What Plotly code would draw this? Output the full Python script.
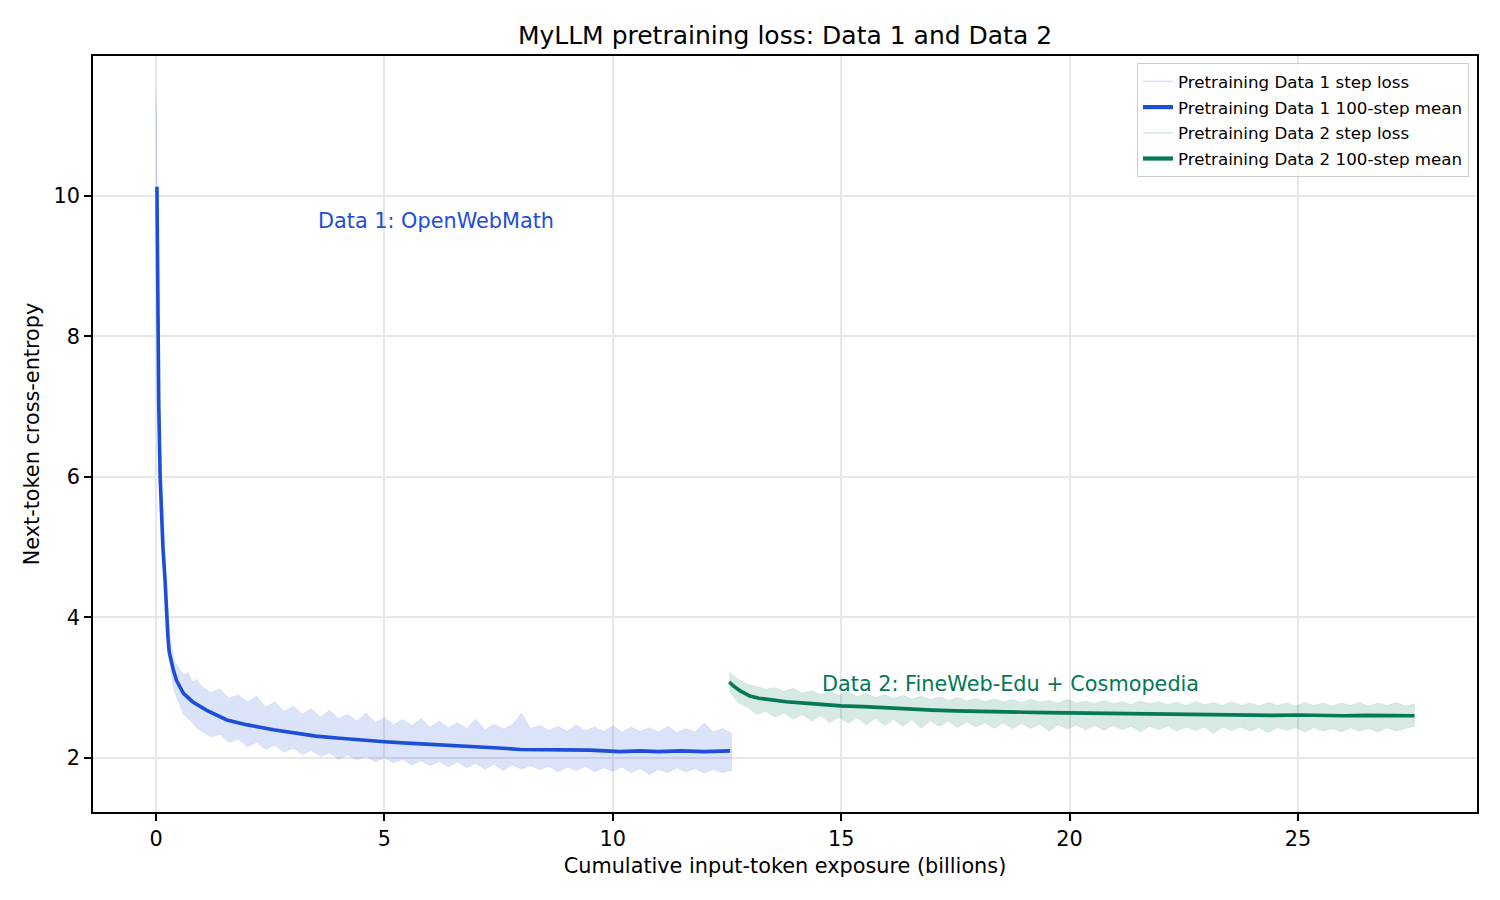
import numpy as np
import plotly.graph_objects as go

# ---------------- Data ----------------
# Data 1 step-loss envelope: early (steep) part
d1_band_x_early = [0.0, 0.01, 0.03, 0.05, 0.08, 0.10, 0.13, 0.16, 0.20, 0.25, 0.30, 0.35, 0.40, 0.50, 0.60, 0.70, 0.80, 0.90]
d1_band_hi_early = [11.5, 11.0, 9.6, 8.6, 7.3, 6.6, 5.9, 5.4, 4.9, 4.25, 3.8, 3.55, 3.38, 3.28, 3.18, 3.22, 3.08, 3.12]
d1_band_lo_early = [11.3, 10.2, 9.0, 8.0, 6.8, 6.1, 5.4, 4.9, 4.3, 3.8, 3.35, 3.12, 2.95, 2.78, 2.62, 2.56, 2.50, 2.42]
# Data 1 step-loss envelope: from 1.0 B tokens, every 0.2 B
d1_band_hi = [3.02, 2.93, 2.98, 2.85, 2.90, 2.80, 2.88, 2.72, 2.80, 2.66,
              2.74, 2.62, 2.70, 2.58, 2.68, 2.56, 2.62, 2.52, 2.64, 2.50,
              2.58, 2.47, 2.55, 2.46, 2.56, 2.44, 2.52, 2.43, 2.50, 2.42,
              2.55, 2.40, 2.48, 2.41, 2.47, 2.64, 2.42, 2.46, 2.39, 2.45,
              2.38, 2.47, 2.39, 2.44, 2.38, 2.46, 2.37, 2.44, 2.38, 2.43,
              2.37, 2.45, 2.36, 2.42, 2.37, 2.50, 2.37, 2.42, 2.35]
d1_band_lo = [2.38, 2.30, 2.33, 2.22, 2.27, 2.16, 2.22, 2.12, 2.18, 2.08,
              2.14, 2.05, 2.10, 2.02, 2.07, 1.98, 2.04, 1.97, 2.02, 1.94,
              2.00, 1.93, 1.98, 1.90, 1.96, 1.89, 1.95, 1.87, 1.94, 1.86,
              1.92, 1.84, 1.91, 1.82, 1.90, 1.84, 1.89, 1.83, 1.88, 1.80,
              1.87, 1.82, 1.88, 1.80, 1.86, 1.81, 1.87, 1.79, 1.85, 1.76,
              1.84, 1.79, 1.86, 1.80, 1.85, 1.78, 1.84, 1.79, 1.82]

# Data 1 100-step mean
d1_mean_x = [0.02, 0.03, 0.04, 0.06, 0.09, 0.12, 0.15, 0.20, 0.23, 0.26, 0.29, 0.33, 0.38, 0.45, 0.60, 0.80,
             1.10, 1.55, 2.00, 2.57, 3.00, 3.50, 4.03, 4.50, 5.00, 5.50, 6.20, 6.60, 7.00, 7.50, 7.97,
             8.50, 9.00, 9.50, 10.16, 10.60, 11.00, 11.50, 12.00, 12.57]
d1_mean_y = [10.13, 9.0, 8.0, 7.0, 6.0, 5.5, 5.0, 4.5, 4.0, 3.72, 3.50, 3.36, 3.25, 3.10, 2.92, 2.80,
             2.68, 2.54, 2.47, 2.40, 2.36, 2.31, 2.28, 2.25, 2.23, 2.21, 2.19, 2.17, 2.16, 2.14, 2.12,
             2.12, 2.11, 2.11, 2.09, 2.10, 2.09, 2.10, 2.09, 2.10]

# Data 2 step-loss envelope, every 0.2 B tokens from 12.55 B
d2_band_hi = [3.22, 3.12, 3.05, 3.02, 2.98, 3.00, 2.95, 2.99, 2.92, 2.96,
              2.90, 2.95, 2.89, 2.94, 2.87, 2.92, 2.86, 2.90, 2.85, 2.89,
              2.84, 2.88, 2.83, 2.87, 2.82, 2.86, 2.81, 2.85, 2.80, 2.84,
              2.80, 2.83, 2.79, 2.84, 2.79, 2.82, 2.78, 2.83, 2.78, 2.81,
              2.77, 2.82, 2.77, 2.80, 2.76, 2.81, 2.77, 2.80, 2.76, 2.79,
              2.75, 2.80, 2.76, 2.79, 2.75, 2.80, 2.75, 2.78, 2.74, 2.79,
              2.75, 2.78, 2.74, 2.79, 2.75, 2.78, 2.74, 2.78, 2.75, 2.79,
              2.74, 2.78, 2.75, 2.79, 2.74, 2.77]
d2_band_lo = [2.95, 2.78, 2.72, 2.62, 2.66, 2.58, 2.64, 2.55, 2.62, 2.52,
              2.60, 2.50, 2.58, 2.49, 2.57, 2.47, 2.56, 2.46, 2.55, 2.45,
              2.54, 2.42, 2.53, 2.45, 2.52, 2.43, 2.51, 2.44, 2.50, 2.42,
              2.50, 2.41, 2.49, 2.42, 2.48, 2.38, 2.47, 2.41, 2.47, 2.40,
              2.46, 2.39, 2.46, 2.40, 2.45, 2.37, 2.45, 2.40, 2.45, 2.38,
              2.44, 2.39, 2.44, 2.35, 2.44, 2.39, 2.44, 2.38, 2.43, 2.36,
              2.43, 2.39, 2.43, 2.37, 2.43, 2.38, 2.42, 2.37, 2.43, 2.38,
              2.42, 2.37, 2.43, 2.38, 2.42, 2.45]

# Data 2 100-step mean
d2_mean_x = [12.55, 12.65, 12.80, 13.00, 13.20, 13.50, 13.80, 14.20, 14.60, 15.00, 15.50, 16.00, 16.50,
             17.00, 17.50, 18.00, 18.50, 19.00, 19.50, 20.00, 20.50, 21.00, 21.50, 22.00, 22.50, 23.00,
             23.50, 24.00, 24.50, 25.00, 25.50, 26.00, 26.50, 27.00, 27.55]
d2_mean_y = [3.08, 3.02, 2.95, 2.88, 2.85, 2.82, 2.80, 2.78, 2.76, 2.74, 2.73, 2.71, 2.70,
             2.68, 2.67, 2.66, 2.655, 2.65, 2.645, 2.64, 2.635, 2.63, 2.625, 2.62, 2.62, 2.615,
             2.61, 2.61, 2.605, 2.61, 2.60, 2.60, 2.605, 2.60, 2.60]

x_ticks = [0, 5, 10, 15, 20, 25]
y_ticks = [2, 4, 6, 8, 10]

# ---------------- Build ----------------
BLUE = "#1d4ed8"
GREEN = "#047857"
BLUE_LIGHT = "rgba(29,78,216,0.16)"
GREEN_LIGHT = "rgba(4,120,87,0.16)"
FONT = "DejaVu Sans"

d1_grid_x = list(np.round(1.0 + 0.2 * np.arange(len(d1_band_hi)), 3))
d2_grid_x = list(np.round(12.55 + 0.2 * np.arange(len(d2_band_hi)), 3))

d1_x = d1_band_x_early + d1_grid_x
d1_hi = d1_band_hi_early + d1_band_hi
d1_lo = d1_band_lo_early + d1_band_lo

fig = go.Figure()

fig.add_trace(go.Scatter(
    x=d1_x + d1_x[::-1], y=d1_hi + d1_lo[::-1], fill="toself",
    fillcolor=BLUE_LIGHT, line=dict(color=BLUE_LIGHT, width=0.5),
    mode="lines", showlegend=False, hoverinfo="skip"))
fig.add_trace(go.Scatter(
    x=d1_mean_x, y=d1_mean_y, mode="lines", line=dict(color=BLUE, width=3.6),
    showlegend=False))

fig.add_trace(go.Scatter(
    x=d2_grid_x + d2_grid_x[::-1], y=d2_band_hi + d2_band_lo[::-1], fill="toself",
    fillcolor=GREEN_LIGHT, line=dict(color=GREEN_LIGHT, width=0.5),
    mode="lines", showlegend=False, hoverinfo="skip"))
fig.add_trace(go.Scatter(
    x=d2_mean_x, y=d2_mean_y, mode="lines", line=dict(color=GREEN, width=3.6),
    showlegend=False))

legend_items = [
    ("Pretraining Data 1 step loss", "rgba(29,78,216,0.18)", 1.5),
    ("Pretraining Data 1 100-step mean", BLUE, 4.2),
    ("Pretraining Data 2 step loss", "rgba(4,120,87,0.18)", 1.5),
    ("Pretraining Data 2 100-step mean", GREEN, 4.2),
]
for i, (name, col, w) in enumerate(legend_items):
    fig.add_trace(go.Scatter(x=[None], y=[None], mode="lines", name=name,
                             line=dict(color=col, width=w), legendgroup=f"g{i}",
                             legendrank=i + 1))

fig.add_annotation(x=3.5, y=9.64, text="Data 1: OpenWebMath", showarrow=False,
                   xanchor="left", yanchor="middle", font=dict(color=BLUE, size=20.8, family=FONT))
fig.add_annotation(x=14.54, y=3.05, text="Data 2: FineWeb-Edu + Cosmopedia", showarrow=False,
                   xanchor="left", yanchor="middle", font=dict(color=GREEN, size=20.8, family=FONT))

axis_common = dict(
    showline=True, linecolor="black", linewidth=1.6, mirror=True,
    ticks="outside", ticklen=7, tickwidth=1.6, tickcolor="black",
    showgrid=True, gridcolor="#e7e7e7", gridwidth=1.6, zeroline=False,
    tickfont=dict(size=20.8, family=FONT, color="black"),
)

fig.update_layout(
    width=1500, height=900,
    margin=dict(l=93, r=23, t=56, b=88),
    paper_bgcolor="white", plot_bgcolor="white",
    font=dict(family=FONT, color="black"),
    title=dict(text="MyLLM pretraining loss: Data 1 and Data 2", x=0.5, xanchor="center", xref="paper",
               y=1 - 35 / 900, yanchor="middle", yref="container",
               font=dict(size=25, family=FONT, color="black")),
    xaxis=dict(range=[-1.38, 28.92], tickvals=x_ticks,
               title=dict(text="Cumulative input-token exposure (billions)", font=dict(size=20.8), standoff=9),
               **axis_common),
    yaxis=dict(range=[1.23, 11.99], tickvals=y_ticks,
               title=dict(text="Next-token cross-entropy", font=dict(size=20.8), standoff=8),
               **axis_common),
    legend=dict(x=0.9942, y=0.9907, xanchor="right", yanchor="top",
                bgcolor="rgba(255,255,255,0.8)", bordercolor="#cccccc", borderwidth=1,
                font=dict(size=16.7, family=FONT, color="black"), tracegroupgap=1),
    showlegend=True,
)

fig.write_html("out.html")
